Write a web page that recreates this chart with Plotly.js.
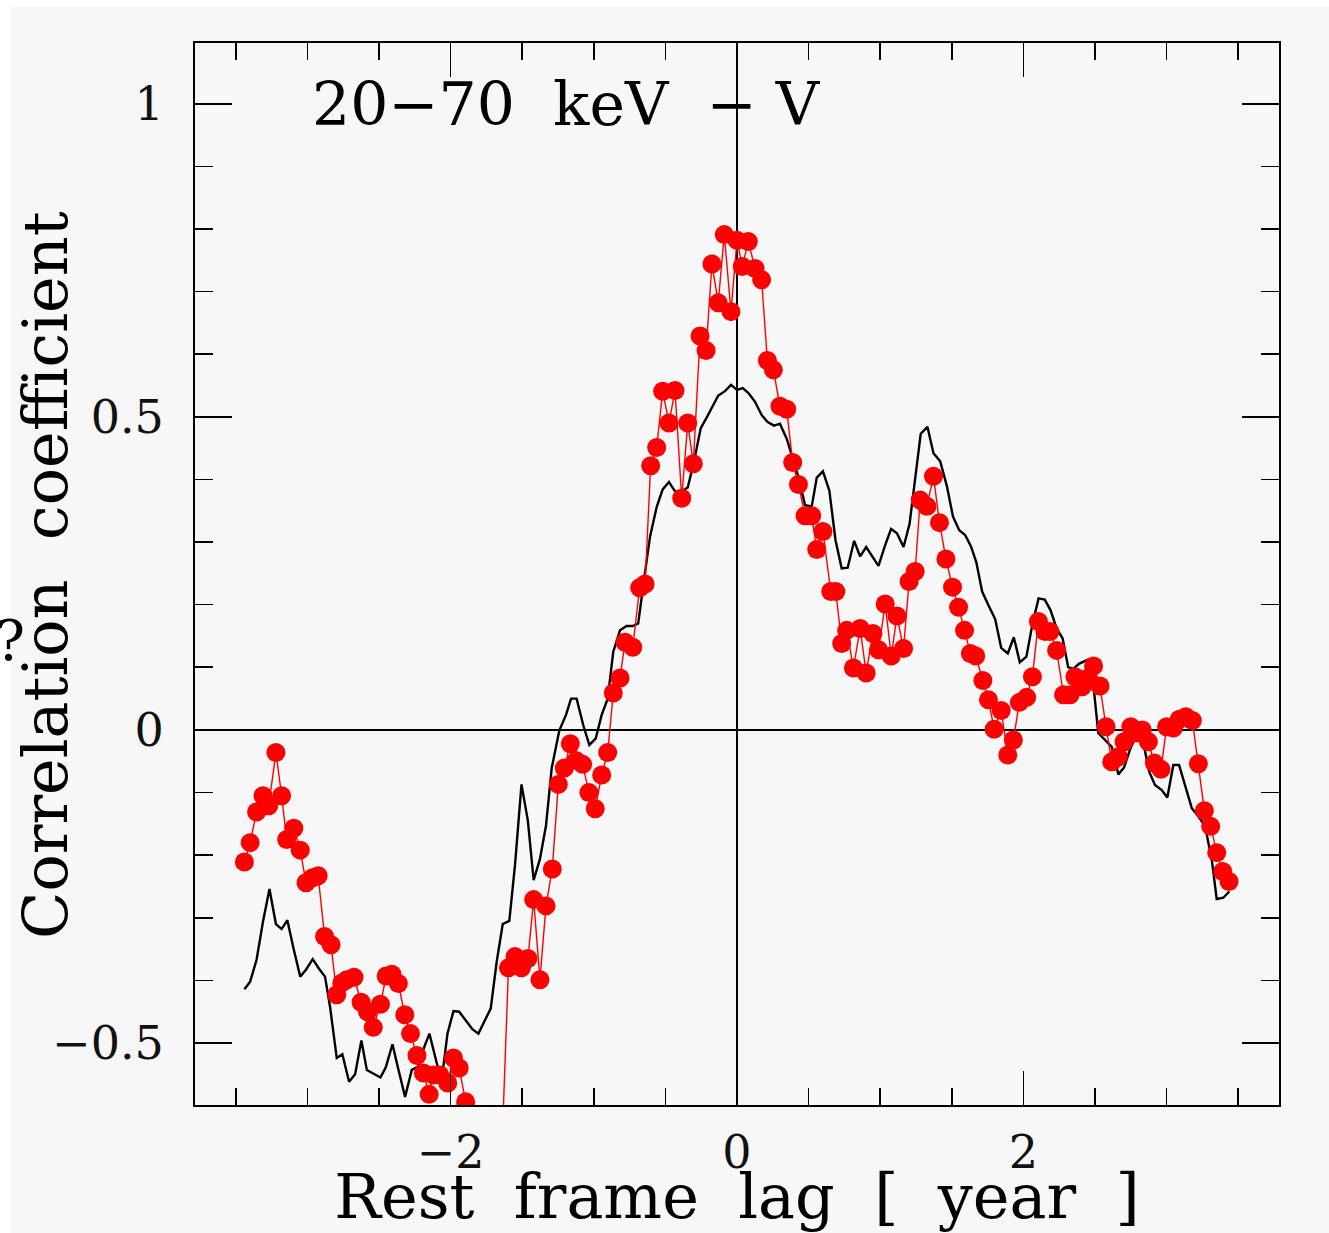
<!DOCTYPE html>
<html>
<head>
<meta charset="utf-8">
<script src="https://cdn.plot.ly/plotly-3.0.1.min.js"></script>
<style>
  html, body { margin: 0; padding: 0; background: #f7f7f7; }
  #chart { width: 1329px; height: 1233px; }
</style>
</head>
<body>
<div id="chart"></div>
<script>
// ---- data ----
const redLag = [-3.44,-3.40,-3.355,-3.31,-3.27,-3.22,-3.18,-3.145,-3.095,-3.05,
-3.01,-2.965,-2.925,-2.88,-2.835,-2.795,-2.76,-2.725,-2.675,-2.625,
-2.58,-2.54,-2.49,-2.45,-2.41,-2.365,-2.32,-2.28,-2.235,-2.19,
-2.15,-2.12,-2.075,-2.02,-1.98,-1.94,-1.895,-1.85,-1.81,-1.77,
-1.725,-1.68,-1.64,-1.596,-1.55,-1.505,-1.46,-1.42,-1.376,-1.334,
-1.29,-1.248,-1.206,-1.164,-1.124,-1.078,-1.034,-0.99,-0.945,-0.903,
-0.864,-0.817,-0.782,-0.728,-0.68,-0.642,-0.603,-0.561,-0.519,-0.475,
-0.433,-0.386,-0.344,-0.305,-0.258,-0.216,-0.175,-0.131,-0.089,-0.042,
0.0,0.037,0.079,0.126,0.172,0.212,0.254,0.300,0.347,0.389,
0.429,0.475,0.522,0.557,0.600,0.655,0.69,0.731,0.766,0.813,
0.860,0.902,0.949,0.988,1.035,1.077,1.117,1.163,1.202,1.244,
1.279,1.326,1.372,1.414,1.459,1.505,1.547,1.589,1.63,1.667,
1.717,1.756,1.796,1.845,1.891,1.930,1.972,2.023,2.063,2.105,
2.151,2.186,2.232,2.28,2.326,2.36,2.41,2.453,2.49,2.535,
2.577,2.617,2.663,2.703,2.75,2.79,2.83,2.873,2.915,2.961,
3.0,3.047,3.089,3.134,3.18,3.222,3.264,3.308,3.35,3.392,
3.436];

const redCorr = [-0.211,-0.180,-0.131,-0.105,-0.121,-0.036,-0.105,-0.175,-0.157,-0.192,
-0.244,-0.236,-0.233,-0.330,-0.343,-0.423,-0.404,-0.399,-0.395,-0.435,
-0.450,-0.475,-0.438,-0.393,-0.390,-0.405,-0.455,-0.485,-0.520,-0.548,
-0.582,-0.551,-0.551,-0.564,-0.524,-0.540,-0.594,-0.640,-0.680,-0.700,
-0.710,-0.690,-0.657,-0.380,-0.362,-0.380,-0.365,-0.271,-0.399,-0.281,
-0.222,-0.087,-0.061,-0.022,-0.049,-0.055,-0.100,-0.126,-0.072,-0.036,
0.059,0.083,0.140,0.132,0.227,0.233,0.422,0.451,0.541,0.490,
0.542,0.370,0.490,0.425,0.629,0.606,0.744,0.682,0.791,0.668,
0.782,0.740,0.780,0.737,0.719,0.590,0.575,0.517,0.512,0.427,
0.392,0.342,0.342,0.288,0.317,0.221,0.221,0.138,0.159,0.099,
0.162,0.091,0.154,0.128,0.201,0.118,0.182,0.130,0.237,0.253,
0.367,0.357,0.405,0.331,0.273,0.228,0.196,0.159,0.122,0.118,
0.079,0.048,0.001,0.031,-0.040,-0.016,0.044,0.052,0.085,0.173,
0.157,0.157,0.127,0.056,0.056,0.085,0.069,0.083,0.102,0.070,
0.005,-0.051,-0.043,-0.019,0.005,-0.005,0.0,-0.019,-0.053,-0.063,
0.005,0.003,0.017,0.021,0.015,-0.054,-0.129,-0.154,-0.196,-0.226,
-0.242];

const blackLag = [-3.44,-3.40,-3.355,-3.31,-3.265,-3.22,-3.18,-3.14,-3.097,-3.05,
-3.01,-2.963,-2.92,-2.877,-2.842,-2.795,-2.756,-2.709,-2.667,-2.623,
-2.585,-2.534,-2.49,-2.453,-2.406,-2.365,-2.318,-2.271,-2.23,-2.19,
-2.148,-2.097,-2.062,-2.022,-1.98,-1.94,-1.893,-1.848,-1.806,-1.76,
-1.72,-1.678,-1.636,-1.59,-1.55,-1.505,-1.461,-1.42,-1.376,-1.334,
-1.294,-1.241,-1.194,-1.159,-1.12,-1.073,-1.031,-0.987,-0.945,-0.903,
-0.864,-0.817,-0.771,-0.728,-0.69,-0.642,-0.607,-0.561,-0.519,-0.475,
-0.433,-0.386,-0.344,-0.30,-0.253,-0.216,-0.172,-0.131,-0.084,-0.042,
0.0,0.04,0.08,0.126,0.172,0.212,0.258,0.30,0.347,0.389,
0.429,0.475,0.522,0.557,0.60,0.645,0.688,0.731,0.773,0.818,
0.86,0.902,0.946,0.988,1.03,1.076,1.117,1.163,1.205,1.245,
1.283,1.33,1.372,1.419,1.466,1.508,1.552,1.594,1.634,1.671,
1.712,1.756,1.803,1.845,1.891,1.933,1.975,2.021,2.064,2.106,
2.149,2.19,2.232,2.274,2.313,2.35,2.39,2.45,2.49,2.523,
2.558,2.617,2.663,2.703,2.745,2.79,2.837,2.879,2.919,2.966,
3.005,3.047,3.087,3.13,3.176,3.222,3.269,3.316,3.35,3.396,
3.438];

const blackCorr = [-0.414,-0.402,-0.367,-0.306,-0.254,-0.310,-0.318,-0.304,-0.349,-0.394,
-0.383,-0.366,-0.381,-0.394,-0.442,-0.524,-0.518,-0.562,-0.550,-0.496,
-0.543,-0.550,-0.555,-0.539,-0.502,-0.542,-0.586,-0.543,-0.538,-0.510,
-0.485,-0.532,-0.559,-0.485,-0.449,-0.450,-0.465,-0.478,-0.485,-0.463,
-0.445,-0.370,-0.310,-0.305,-0.215,-0.087,-0.144,-0.240,-0.206,-0.153,
-0.061,-0.001,0.024,0.050,0.050,0.007,-0.024,-0.014,0.024,0.050,
0.125,0.159,0.166,0.166,0.170,0.252,0.309,0.356,0.384,0.396,
0.381,0.381,0.387,0.429,0.482,0.497,0.516,0.534,0.541,0.551,
0.543,0.546,0.538,0.524,0.503,0.492,0.486,0.489,0.465,0.435,
0.404,0.359,0.357,0.403,0.413,0.382,0.303,0.258,0.259,0.302,
0.277,0.292,0.276,0.262,0.292,0.321,0.314,0.292,0.329,0.406,
0.473,0.484,0.442,0.429,0.389,0.341,0.319,0.311,0.293,0.268,
0.221,0.199,0.177,0.131,0.122,0.148,0.108,0.117,0.170,0.210,
0.208,0.191,0.162,0.146,0.100,0.098,0.106,0.112,0.069,-0.005,
-0.013,-0.027,-0.071,-0.060,-0.031,-0.008,-0.020,-0.067,-0.088,-0.096,
-0.108,-0.056,-0.056,-0.091,-0.125,-0.138,-0.154,-0.208,-0.270,-0.268,
-0.258];

const xTickVals = [-2, 0, 2];
const yTickVals = [-0.5, 0, 0.5, 1];

const panelLabel = "20\u221270\u00a0\u00a0keV\u00a0\u00a0\u2212\u00a0V";
const xTitle = "Rest\u00a0\u00a0frame\u00a0\u00a0lag\u00a0\u00a0[\u00a0\u00a0year\u00a0\u00a0]";
const yTitle = "Correlation\u00a0\u00a0coefficient";

// ---- chart ----
const FONT = "DejaVu Serif, Liberation Serif, serif";
const W = 1329, H = 1233;
const M = {l: 195, r: 50, t: 43, b: 128};
const pw = W - M.l - M.r, ph = H - M.t - M.b;
const px = v => (v - M.l) / pw;          // pixel -> paper x
const py = v => (H - M.b - v) / ph;      // pixel -> paper y

const traces = [
  {
    x: blackLag, y: blackCorr, type: 'scatter', mode: 'lines',
    line: {color: '#000000', width: 2.4},
    showlegend: false, hoverinfo: 'skip'
  },
  {
    x: redLag, y: redCorr, type: 'scatter', mode: 'lines+markers',
    line: {color: '#ff0000', width: 1.4},
    marker: {color: '#ff0000', size: 19, line: {width: 0}},
    showlegend: false, hoverinfo: 'skip'
  }
];

const axisCommon = {
  showgrid: false,
  showline: true, linecolor: '#000', linewidth: 2,
  mirror: 'allticks',
  ticks: 'inside', tickcolor: '#000', tickwidth: 1.6,
  zeroline: true, zerolinecolor: '#000', zerolinewidth: 1.6,
  tickfont: {family: FONT, size: 46, color: '#111'},
  tickmode: 'array'
};

const layout = {
  width: W, height: H,
  margin: M,
  paper_bgcolor: '#f7f7f7',
  plot_bgcolor: '#f7f7f7',
  font: {family: FONT, color: '#000'},
  showlegend: false,
  xaxis: Object.assign({}, axisCommon, {
    range: [-3.785, 3.785],
    tickvals: xTickVals,
    ticklen: 34,
    ticklabelstandoff: 6,
    minor: {dtick: 0.5, tick0: 0, ticklen: 17, tickcolor: '#000', tickwidth: 1.6, ticks: 'inside', showgrid: false},
    title: {text: xTitle, font: {family: FONT, size: 62, color: '#000'}, standoff: 12}
  }),
  yaxis: Object.assign({}, axisCommon, {
    range: [-0.599, 1.097],
    tickvals: yTickVals,
    ticklen: 37,
    ticklabelstandoff: 20,
    minor: {dtick: 0.1, tick0: 0, ticklen: 18, tickcolor: '#000', tickwidth: 1.6, ticks: 'inside', showgrid: false},
    title: {text: ''}
  }),
  annotations: [
    {
      text: yTitle, xref: 'paper', yref: 'paper', textangle: -90,
      x: px(45), y: py(575), xanchor: 'center', yanchor: 'middle',
      showarrow: false, font: {family: FONT, size: 62, color: '#000'}
    },
    {
      text: panelLabel, xref: 'paper', yref: 'paper',
      x: px(310), y: py(104), xanchor: 'left', yanchor: 'middle',
      showarrow: false, font: {family: FONT, size: 60, color: '#000'}
    },
    {
      text: '?', xref: 'paper', yref: 'paper',
      x: px(-7), y: py(640), xanchor: 'left', yanchor: 'middle',
      showarrow: false, font: {family: FONT, size: 56, color: '#000'}
    }
  ],
  shapes: [
    {type: 'rect', xref: 'paper', yref: 'paper', layer: 'below',
     x0: px(0), x1: px(11), y0: py(H), y1: py(0),
     fillcolor: '#ffffff', line: {width: 0}},
    {type: 'rect', xref: 'paper', yref: 'paper', layer: 'below',
     x0: px(0), x1: px(W), y0: py(7), y1: py(0),
     fillcolor: '#ffffff', line: {width: 0}}
  ]
};

Plotly.newPlot('chart', traces, layout, {staticPlot: true, displayModeBar: false});
</script>
</body>
</html>
